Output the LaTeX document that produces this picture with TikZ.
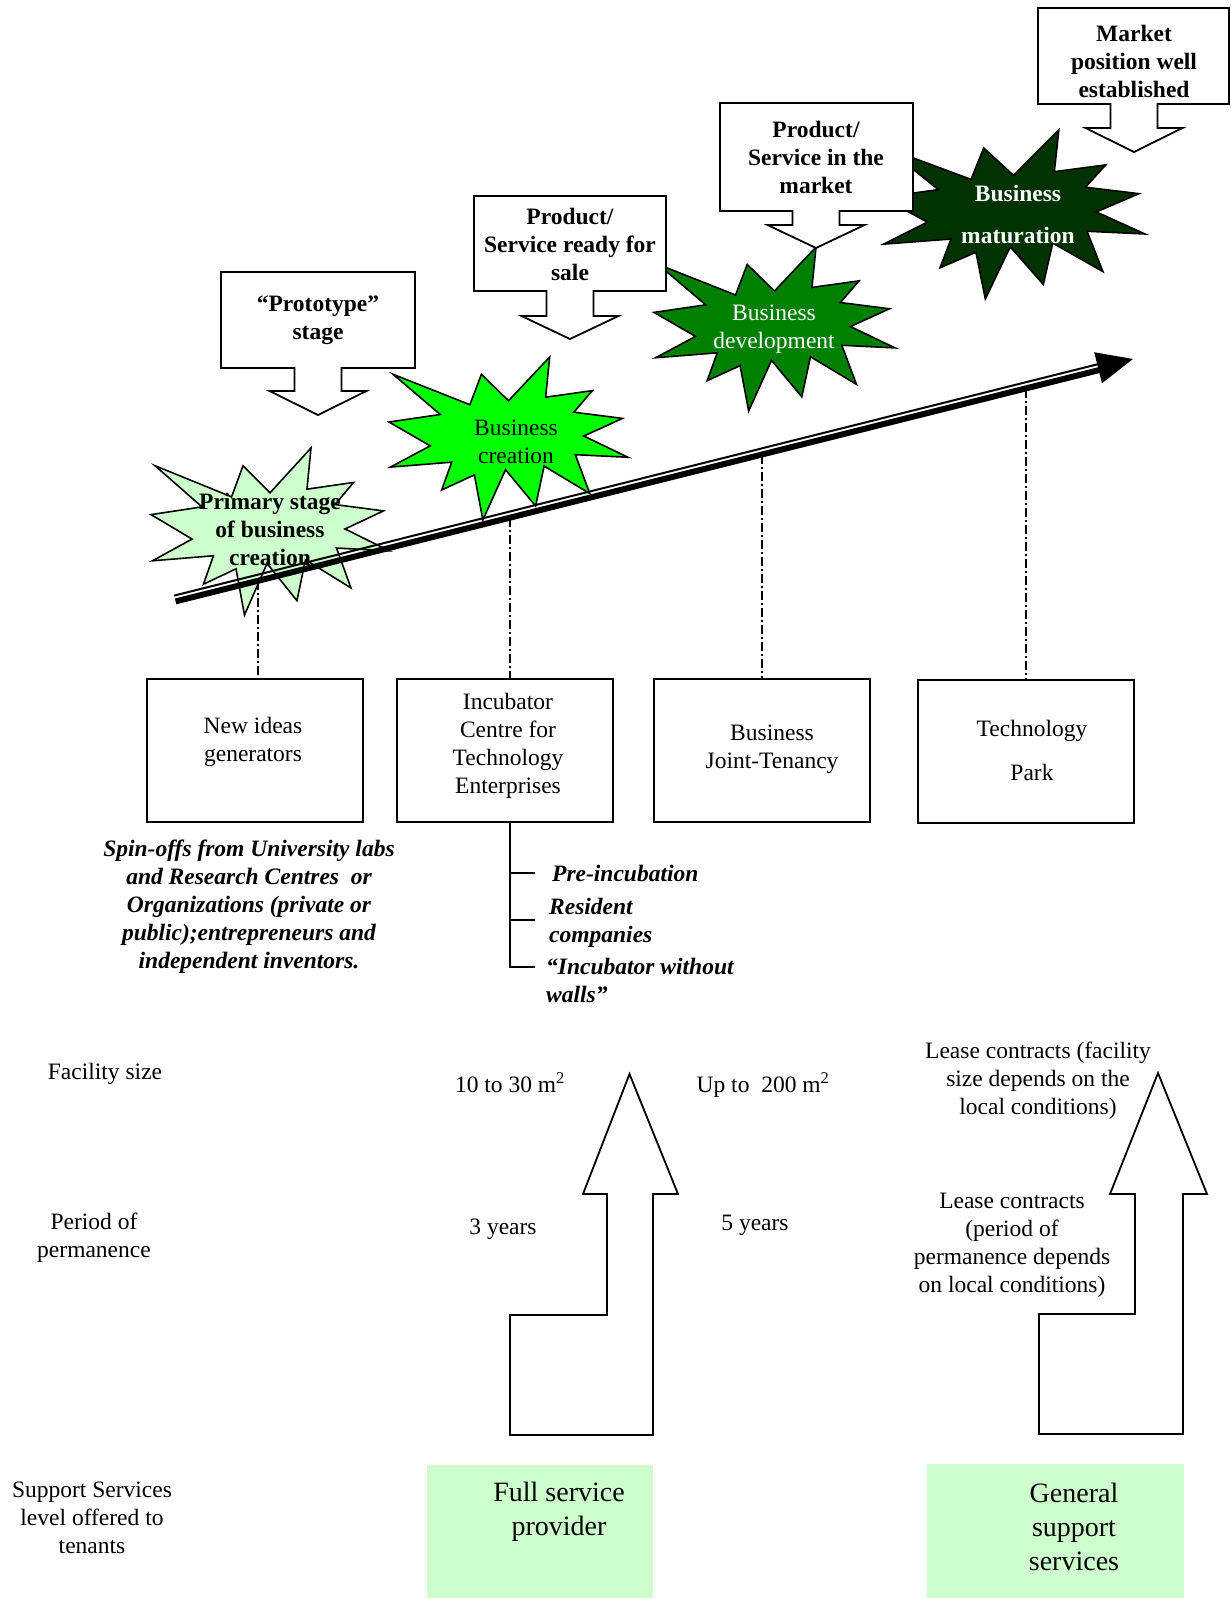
\documentclass[tikz,border=0pt]{standalone}
\usepackage{fontspec}
\setmainfont{Liberation Serif}
\usetikzlibrary{calc}
\definecolor{lightg}{HTML}{CCFFCC}
\definecolor{brightg}{HTML}{00FF00}
\definecolor{midg}{HTML}{008000}
\definecolor{darkg}{HTML}{003300}
\newcommand\mystar[5]{%
 \filldraw[fill=#5, draw=black, line width=1.6pt, line join=miter, shift={(#1,#2)}, xscale=#3/216, yscale=#4/216]
 (108,58) -- (145.22,0) -- (141.55,53.25) -- (183.80,44.57) -- (167.02,73.15) -- (210.97,81.37)
 -- (176.07,104.75) -- (216,132.90) -- (168.37,129.42) -- (181.45,180.95) -- (140.20,144.57)
 -- (132.47,197.37) -- (105.32,149.35) -- (84.85,216) -- (77.15,156.27) -- (47.62,176.17)
 -- (56.67,139.37) -- (1.35,145.87) -- (37.22,117.75) -- (0,86.15) -- (46.27,76.17)
 -- (3.70,22.95) -- (73.12,63.20) -- (83.52,22.95) -- cycle;}
\newcommand\mycallout[7]{%
 \filldraw[callout] (#2,#4) -- (#3,#4) -- (#3,#5) -- ({#1+23.5},#5) -- ({#1+23.5},#6) -- ({#1+48.5},#6)
 -- (#1,#7) -- ({#1-48.5},#6) -- ({#1-23.5},#6) -- ({#1-23.5},#5) -- (#2,#5) -- cycle;}
\begin{document}
\begin{tikzpicture}[x=1pt,y=-1pt, line join=miter,
  txt/.style={font=\fontsize{23.5}{28}\selectfont, inner sep=0pt, align=center},
  btxt/.style={txt, font=\fontsize{23.5}{28}\selectfont\bfseries},
  bitxt/.style={txt, font=\fontsize{23.5}{28}\selectfont\bfseries\itshape},
  bigtxt/.style={txt, font=\fontsize{28}{34}\selectfont},
  lbox/.style={draw, line width=1.8pt, minimum width=216pt, minimum height=143pt, inner sep=0pt},
  callout/.style={draw, fill=white, line width=1.8pt},
  ddline/.style={line width=1.3pt, dash pattern=on 9pt off 3pt on 2pt off 3pt},
  outl/.style={draw, line width=1.8pt},
]
\useasboundingbox (0,0) rectangle (1231,1598);
\fill[white] (0,0) rectangle (1231,1598);

% stars and main arrow
\mystar{151}{448}{238}{167}{lightg}
\coordinate (arrS) at (175,599);
\coordinate (arrT) at (1133,359);
\coordinate (arrB) at ($(arrT)!36pt!(arrS)$);
\coordinate (arrE) at ($(arrT)!30pt!(arrS)$);
\draw[line width=6pt] ($(arrS)!2.5pt!-90:(arrT)$) -- ($(arrE)!2.5pt!-90:(arrT)$);
\draw[line width=2pt] ($(arrS)!3.5pt!90:(arrT)$) -- ($(arrE)!3.5pt!90:(arrT)$);
\fill ($(arrB)!16pt!90:(arrT)$) -- (arrT) -- ($(arrB)!16pt!-90:(arrT)$) -- cycle;
\mystar{389}{357}{239}{163}{brightg}
\mystar{654}{247}{241}{164}{midg}
\mystar{882}{130}{263}{169}{darkg}

% callouts
\mycallout{318}{221}{415}{272}{368}{391}{415}
\mycallout{570}{474}{666}{196}{291}{316}{339}
\mycallout{816}{720}{913}{103}{211}{225}{248}
\mycallout{1134}{1038}{1229}{8}{104}{128}{152}

\node[btxt] (t1) at (318,320) {“Prototype”\\stage};
\node[btxt] (t2) at (570,244) {Product/\\Service ready for\\sale};
\node[btxt] (t3) at (816,157) {Product/\\Service in the\\market};
\node[btxt] (t4) at (1134,61) {Market\\position well\\established};

\node[btxt] (s1) at (270,529) {Primary stage\\of business\\creation};
\node[txt] (s2) at (516,442) {Business\\creation};
\node[txt, text=white] (s3) at (774,329) {Business\\development};
\node[btxt, text=white] (s4) at (1018,214) {Business\\[14pt]maturation};

% lower boxes
\node[lbox] (b1) at (255,750.5) {};
\node[lbox] (b2) at (505,750.5) {};
\node[lbox] (b3) at (762,750.5) {};
\node[lbox] (b4) at (1026,751.5) {};
\node[txt] (b1t) at (253,742) {New ideas\\generators};
\node[txt] (b2t) at (508,746) {Incubator\\Centre for\\Technology\\Enterprises};
\node[txt] (b3t) at (772,749) {Business\\Joint-Tenancy};
\node[txt] (b4t) at (1032,750) {Technology\\[16pt]Park};

% dash-dot lines
\coordinate (d1) at (258,581);
\coordinate (d2) at (510,518);
\coordinate (d3) at (762,455);
\coordinate (d4) at (1026,389);
\draw[ddline] (d1) -- (d1 |- b1.north);
\draw[ddline] (d2) -- (d2 |- b2.north);
\draw[ddline] (d3) -- (d3 |- b3.north);
\draw[ddline] (d4) -- (d4 |- b4.north);

% bracket list
\coordinate (k1) at (535,873);
\coordinate (k2) at (535,920);
\coordinate (k3) at (535,967);
\draw[line width=1.6pt] (d2 |- b2.south) -- (d2 |- k3) -- (k3);
\draw[line width=1.6pt] (d2 |- k1) -- (k1);
\draw[line width=1.6pt] (d2 |- k2) -- (k2);
\node[bitxt, anchor=west, align=left] (p1) at (552,873) {Pre-incubation};
\node[bitxt, anchor=west, align=left] (p2) at (549,923) {Resident\\companies};
\node[bitxt, anchor=west, align=left] (p3) at (546,980) {“Incubator without\\walls”};

\node[bitxt] (spin) at (249,907) {Spin-offs from University labs\\and Research Centres~ or\\Organizations (private or\\public);entrepreneurs and\\independent inventors.};

% lower section
\node[txt] (fs) at (105,1074) {Facility size};
\node[txt] (pp) at (94,1238) {Period of\\permanence};
\node[txt] (ss) at (92,1518) {Support Services\\level offered to\\tenants};
\node[txt] (m1) at (510,1083) {10 to 30 m\textsuperscript{2}};
\node[txt] (m2) at (763,1085) {Up to~ 200 m\textsuperscript{2}};
\node[txt] (y1) at (503,1229) {3 years};
\node[txt] (y2) at (755,1225) {5 years};
\node[txt] (lc1) at (1038,1081) {Lease contracts (facility\\size depends on the\\local conditions)};
\node[txt] (lc2) at (1012,1245) {Lease contracts\\(period of\\permanence depends\\on local conditions)};

\draw[outl] (629.5,1074) -- (678,1194) -- (653,1194) -- (653,1435) -- (510,1435) -- (510,1315)
  -- (607,1315) -- (607,1194) -- (583,1194) -- cycle;
\draw[outl] (1158,1073) -- (1207,1194) -- (1183,1194) -- (1183,1434) -- (1039,1434) -- (1039,1314)
  -- (1135,1314) -- (1135,1194) -- (1110,1194) -- cycle;

\fill[lightg] (427,1465) rectangle (653,1598);
\fill[lightg] (927,1464) rectangle (1184,1598);
\node[bigtxt] (g1) at (559,1512) {Full service\\provider};
\node[bigtxt] (g2) at (1074,1527) {General\\support\\services};
\end{tikzpicture}
\end{document}
